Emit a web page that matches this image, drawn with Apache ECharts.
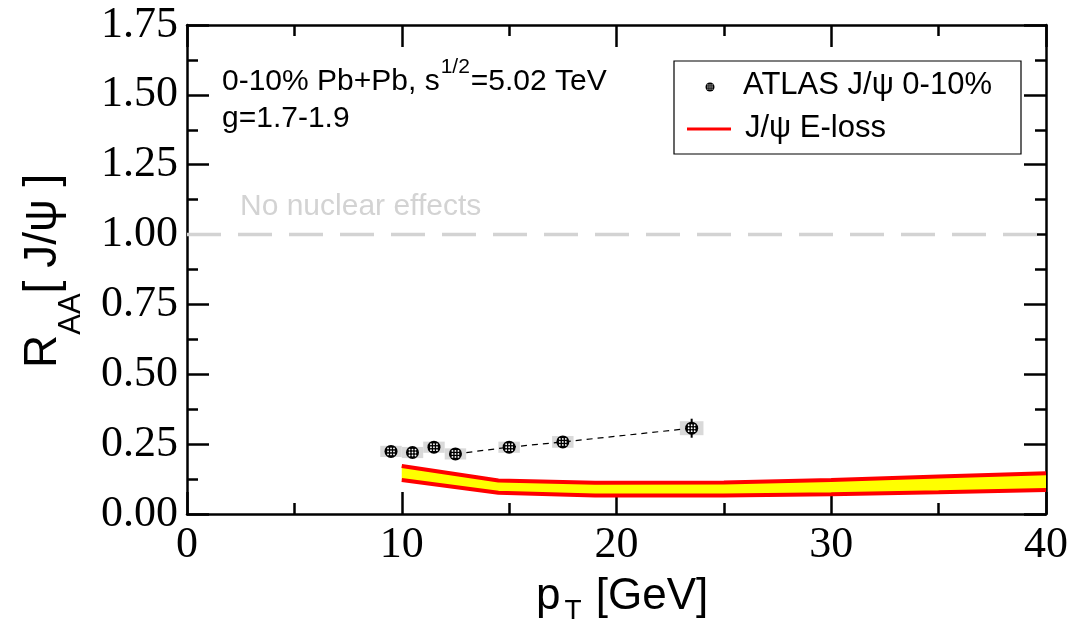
<!DOCTYPE html>
<html><head><meta charset="utf-8">
<script src="https://cdn.jsdelivr.net/npm/echarts@6/dist/echarts.min.js"></script>
<style>html,body{margin:0;padding:0;background:#fff}#c{width:1087px;height:621px}</style>
</head><body><div id="c"></div>
<script>
// ---- data ----
const ptValues      = [9.5, 10.5, 11.5, 12.5, 15.0, 17.5, 23.5];
const raaValues     = [0.224, 0.220, 0.239, 0.215, 0.239, 0.258, 0.307];
const statErrors    = [0.012, 0.012, 0.012, 0.012, 0.012, 0.014, 0.034];
const sysErrors     = [0.020, 0.020, 0.020, 0.020, 0.020, 0.021, 0.025];
const binHalfWidths = [0.5, 0.5, 0.5, 0.5, 0.5, 0.5, 0.55];
const connectedFrom = 3;   // dashed guide joins the points from this index on

const bandPt    = [10, 14.5, 19, 25, 30, 35, 40];
const bandUpper = [0.172, 0.120, 0.112, 0.113, 0.122, 0.134, 0.146];
const bandLower = [0.122, 0.076, 0.066, 0.066, 0.071, 0.078, 0.086];

const noEffectLevel = 1.0;
const xTickLabels = ['0', '10', '20', '30', '40'];
const yTickLabels = ['0.00', '0.25', '0.50', '0.75', '1.00', '1.25', '1.50', '1.75'];

// ---- helpers ----
const SANS = '"Liberation Sans", Arial, Helvetica, sans-serif';
const SERIF = '"Liberation Serif", "Times New Roman", serif';
const mctx = document.createElement('canvas').getContext('2d');
function tw(text, size) { mctx.font = size + 'px ' + SANS; return mctx.measureText(text).width; }

// parts: [{t, size, dy, gap}] laid out left to right, dy = shift of text centre
function textRun(parts, color) {
  let cx = 0; const ch = [];
  parts.forEach(p => {
    cx += (p.gap || 0);
    ch.push({ type: 'text', x: cx, y: p.dy || 0,
      style: { text: p.t, font: p.size + 'px ' + SANS, fill: color || '#000', align: 'left', verticalAlign: 'middle' } });
    cx += tw(p.t, p.size);
  });
  return ch;
}
function markerChildren(cx, cy, r) {
  const ch = [{ type: 'circle', shape: { cx, cy, r }, style: { fill: '#000' } }];
  const s = r * 0.46;
  for (let i = -1; i <= 1; i++) for (let j = -1; j <= 1; j++) {
    ch.push({ type: 'circle', shape: { cx: cx + i * s, cy: cy + j * s, r: r * 0.14 }, style: { fill: '#fff' } });
  }
  return ch;
}

const axisCommon = {
  type: 'value',
  axisLine: { show: true, onZero: false, lineStyle: { color: '#000', width: 2.5 } },
  axisTick: { show: true, inside: true, length: 22, lineStyle: { color: '#000', width: 2.5 } },
  minorTick: { show: true, splitNumber: 2, length: 11, lineStyle: { color: '#000', width: 2.5 } },
  splitLine: { show: false }, minorSplitLine: { show: false }
};

const chart = echarts.init(document.getElementById('c'));
const option = {
  animation: false,
  backgroundColor: '#fff',
  grid: { left: 187, right: 41, top: 25, bottom: 107, containLabel: false },
  xAxis: [
    Object.assign({}, axisCommon, { position: 'bottom', min: 0, max: 40, interval: 10,
      axisLabel: { show: true, showMinLabel: true, showMaxLabel: true, margin: 9, color: '#000', fontFamily: SERIF, fontSize: 44,
        formatter: v => xTickLabels[Math.round(v / 10)] } }),
    Object.assign({}, axisCommon, { position: 'top', min: 0, max: 40, interval: 10, axisLabel: { show: false } })
  ],
  yAxis: [
    Object.assign({}, axisCommon, { position: 'left', min: 0, max: 1.75, interval: 0.25,
      axisLabel: { show: true, showMinLabel: true, showMaxLabel: true, margin: 9, color: '#000', fontFamily: SERIF, fontSize: 44,
        formatter: v => yTickLabels[Math.round(v / 0.25)] } }),
    Object.assign({}, axisCommon, { position: 'right', min: 0, max: 1.75, interval: 0.25, axisLabel: { show: false } })
  ],
  series: [
    { // no nuclear effects reference
      type: 'line', z: 1, symbol: 'none', silent: true,
      data: [[0, noEffectLevel], [40, noEffectLevel]],
      lineStyle: { color: '#d3d3d3', width: 3.5, type: [34, 17] }
    },
    { // E-loss band fill
      type: 'custom', z: 2, silent: true, clip: true,
      data: bandPt.map((x, i) => [x, bandLower[i], bandUpper[i]]),
      renderItem: (params, api) => {
        if (params.dataIndex !== 0) return null;
        const pts = [];
        bandPt.forEach((x, i) => pts.push(api.coord([x, bandUpper[i]])));
        for (let i = bandPt.length - 1; i >= 0; i--) pts.push(api.coord([bandPt[i], bandLower[i]]));
        return { type: 'polygon', shape: { points: pts }, style: { fill: '#ffff00' } };
      }
    },
    { type: 'line', z: 3, symbol: 'none', silent: true, name: 'J/ψ E-loss',
      data: bandPt.map((x, i) => [x, bandUpper[i]]), lineStyle: { color: '#ff0000', width: 4 } },
    { type: 'line', z: 3, symbol: 'none', silent: true,
      data: bandPt.map((x, i) => [x, bandLower[i]]), lineStyle: { color: '#ff0000', width: 4 } },
    { // systematic boxes
      type: 'custom', z: 4, silent: true,
      data: ptValues.map((x, i) => [x, raaValues[i], sysErrors[i], binHalfWidths[i]]),
      renderItem: (params, api) => {
        const x = api.value(0), y = api.value(1), s = api.value(2), hw = api.value(3);
        const p1 = api.coord([x - hw, y + s]), p2 = api.coord([x + hw, y - s]);
        return { type: 'rect', shape: { x: p1[0], y: p1[1], width: p2[0] - p1[0], height: p2[1] - p1[1] }, style: { fill: '#d9d9d9' } };
      }
    },
    { // dashed guide
      type: 'line', z: 5, symbol: 'none', silent: true,
      data: ptValues.map((x, i) => [x, raaValues[i]]).slice(connectedFrom),
      lineStyle: { color: '#000', width: 1.2, type: [6, 5] }
    },
    { // ATLAS points with stat errors
      type: 'custom', z: 6, silent: true, name: 'ATLAS J/ψ 0-10%',
      data: ptValues.map((x, i) => [x, raaValues[i], statErrors[i]]),
      renderItem: (params, api) => {
        const x = api.value(0), y = api.value(1), e = api.value(2);
        const c = api.coord([x, y]), top = api.coord([x, y + e]), bot = api.coord([x, y - e]);
        const ch = [{ type: 'line', shape: { x1: c[0], y1: top[1], x2: c[0], y2: bot[1] }, style: { stroke: '#000', lineWidth: 2 } }];
        return { type: 'group', children: ch.concat(markerChildren(c[0], c[1], 6.5)) };
      }
    }
  ],
  graphic: [
    { type: 'text', x: 240, y: 207, silent: true,
      style: { text: 'No nuclear effects', font: '30px ' + SANS, fill: '#d3d3d3', align: 'left', verticalAlign: 'middle' } },
    { type: 'group', x: 222, y: 82, silent: true,
      children: textRun([{ t: '0-10% Pb+Pb, s', size: 30 }, { t: '1/2', size: 21, dy: -15, gap: 1 }, { t: '=5.02 TeV', size: 30, gap: 1 }]) },
    { type: 'group', x: 222, y: 119, silent: true, children: textRun([{ t: 'g=1.7-1.9', size: 30 }]) },
    // legend
    { type: 'rect', silent: true, shape: { x: 674, y: 61, width: 347, height: 93 },
      style: { fill: '#fff', stroke: '#000', lineWidth: 1.2 } },
    { type: 'group', silent: true, children: markerChildren(710, 87, 4.5) },
    { type: 'line', silent: true, shape: { x1: 687, y1: 129, x2: 731, y2: 129 }, style: { stroke: '#ff0000', lineWidth: 3 } },
    { type: 'group', x: 743, y: 85, silent: true, children: textRun([{ t: 'ATLAS J/ψ 0-10%', size: 31 }]) },
    { type: 'group', x: 745, y: 128, silent: true, children: textRun([{ t: 'J/ψ E-loss', size: 31 }]) },
    // axis titles
    { type: 'group', x: 536, y: 597, silent: true,
      children: textRun([{ t: 'p', size: 44 }, { t: 'T', size: 28, dy: 14, gap: 4 }, { t: ' [GeV]', size: 44, gap: 2 }]) },
    { type: 'group', x: 43, y: 368, rotation: Math.PI / 2, silent: true,
      children: textRun([{ t: 'R', size: 46 }, { t: 'AA', size: 31, dy: 28, gap: 0 }, { t: '[ J/ψ ]', size: 46, gap: 0 }]) }
  ]
};
chart.setOption(option);
</script></body></html>
